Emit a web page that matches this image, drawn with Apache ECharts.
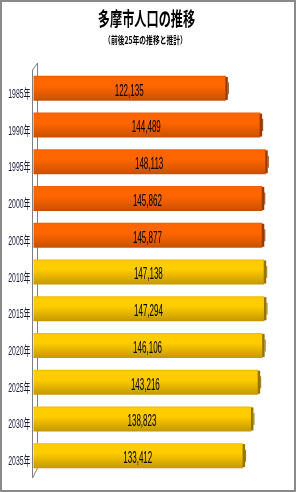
<!DOCTYPE html>
<html>
<head>
<meta charset="utf-8">
<script src="https://cdn.jsdelivr.net/npm/echarts@6/dist/echarts.min.js"></script>
<style>
html,body{margin:0;padding:0;background:#fff;}
#frame{position:absolute;left:0;top:0;width:296px;height:492px;box-sizing:border-box;border:2px solid #8a8a8a;}
#chart{position:absolute;left:0;top:0;width:296px;height:492px;}
</style>
</head>
<body>
<div id="chart"></div>
<div id="frame"></div>
<script>
const titleText = '多摩市人口の推移';
const subtitleText = '（前後25年の推移と推計）';
const categories = ['1985年','1990年','1995年','2000年','2005年','2010年','2015年','2020年','2025年','2030年','2035年'];
const population = [122135, 144489, 148113, 145862, 145877, 147138, 147294, 146106, 143216, 138823, 133412];
const isActual = [true, true, true, true, true, false, false, false, false, false, false];

const gridLeft = 38, gridTop = 70, gridHeight = 404, gridWidth = 246;

const orangeFill = {type:'linear',x:0,y:0,x2:0,y2:1,colorStops:[
  {offset:0,color:'#E85E00'},{offset:0.08,color:'#FF6600'},{offset:0.4,color:'#FF6600'},{offset:1,color:'#C85000'}]};
const yellowFill = {type:'linear',x:0,y:0,x2:0,y2:1,colorStops:[
  {offset:0,color:'#E8BA00'},{offset:0.08,color:'#FFCC00'},{offset:0.4,color:'#FFCC00'},{offset:1,color:'#C49800'}]};

const chart = echarts.init(document.getElementById('chart'), null, {renderer:'canvas'});

function fmt(v){ return v.toLocaleString('en-US'); }

chart.setOption({
  animation:false,
  grid:{left:gridLeft, top:gridTop, width:gridWidth, height:gridHeight, containLabel:false},
  xAxis:{type:'value', min:0, max:160000, show:false},
  yAxis:{type:'category', data:categories, inverse:true,
    axisLine:{show:false}, axisTick:{show:false}, axisLabel:{show:false}, splitLine:{show:false}},
  graphic:[
    {type:'text', x:146.5, y:19, scaleX:0.64, z:10,
      style:{text:titleText, x:0, y:0, align:'center', verticalAlign:'middle',
        font:'bold 19px "Noto Sans CJK JP", sans-serif', fill:'#000'}},
    {type:'text', x:145.5, y:40, scaleX:0.68, z:10,
      style:{text:subtitleText, x:0, y:0, align:'center', verticalAlign:'middle',
        font:'bold 10px "Noto Sans CJK JP", sans-serif', fill:'#000'}},
    {type:'polyline', z:0, silent:true,
      shape:{points:[[32.5, gridTop],[32.5, 478]]}, style:{stroke:'#808080', lineWidth:1, fill:null}},
    {type:'polyline', z:0, silent:true,
      shape:{points:[[32.5, gridTop],[37.5, gridTop-7],[37.5, 468],[32.5, 478]]}, style:{stroke:'#808080', lineWidth:1, fill:null}}
  ],
  series:[{
    type:'custom',
    encode:{x:0, y:1},
    data: population.map((v,i)=>[v,i]),
    renderItem:function(params, api){
      const idx = api.value(1);
      const val = api.value(0);
      const end = api.coord([val, idx]);
      const start = api.coord([0, idx]);
      const h = 25;
      const x0 = start[0] - 4.5;
      const x1 = end[0];
      const cy = end[1];
      const actual = isActual[idx];
      const fill = actual ? orangeFill : yellowFill;
      const capColor = actual ? '#963A00' : '#957400';
      return {type:'group', children:[
        {type:'rect', shape:{x:x0, y:cy-h/2, width:x1-x0, height:h}, style:{fill:fill}},
        {type:'rect', shape:{x:x1-0.5, y:cy-h/2+1, width:2.5, height:h-2}, style:{fill:capColor}},
        {type:'rect', shape:{x:x1+2, y:cy-6, width:1, height:12}, style:{fill:capColor}},
        {type:'text', x:(x0+x1+3)/2 - 2, y:cy+3, scaleX:0.5,
          style:{text:fmt(val), x:0, y:0, align:'center', verticalAlign:'middle',
            font:'16px "Liberation Sans", sans-serif', fill:'#000'}},
        {type:'text', x:30.5, y:cy+6, scaleX:0.53,
          style:{text:categories[idx], x:0, y:0, align:'right', verticalAlign:'middle',
            font:'13px "Liberation Sans", "Noto Sans CJK JP", sans-serif', fill:'#1a1a3a'}}
      ]};
    }
  }]
});
</script>
</body>
</html>
